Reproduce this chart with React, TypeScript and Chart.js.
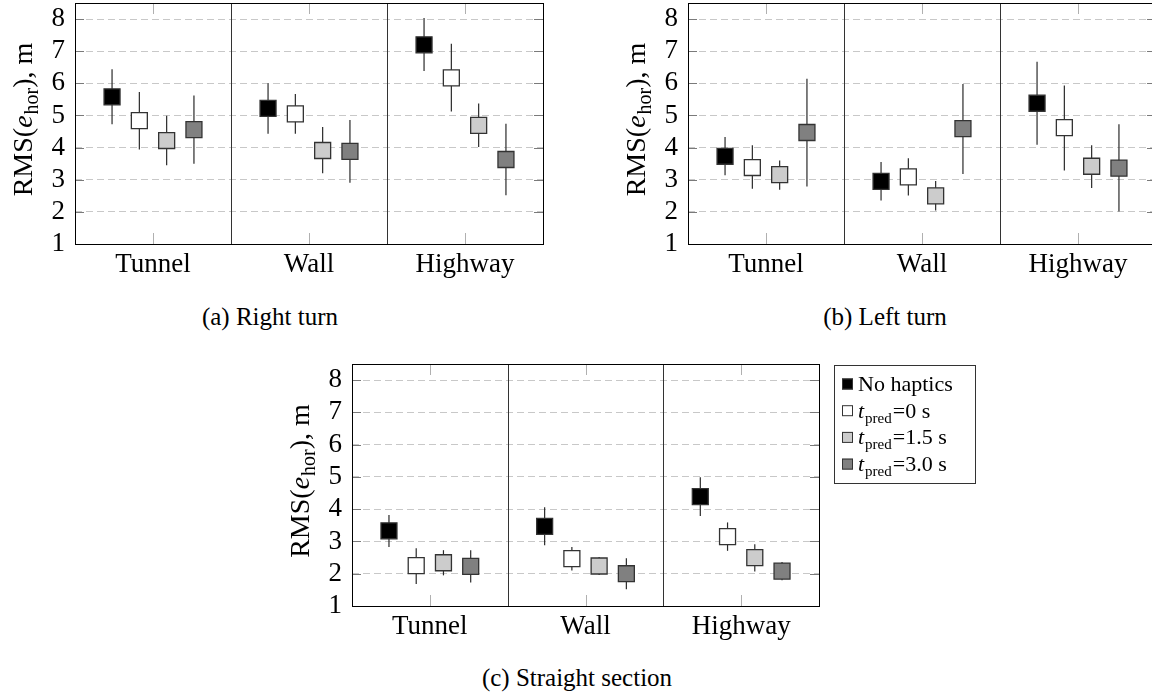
import React, { useEffect, useRef } from 'react';
import { Chart, registerables } from 'chart.js';

Chart.register(...registerables);

// ---------- data ----------
const categories = ['Tunnel', 'Wall', 'Highway'];
const seriesNames = ['No haptics', 't_pred=0 s', 't_pred=1.5 s', 't_pred=3.0 s'];
const legendSuffix = ['', '=0 s', '=1.5 s', '=3.0 s'];
const seriesFill = ['#000000', '#ffffff', '#cccccc', '#808080'];
const yTickValues = [1, 2, 3, 4, 5, 6, 7, 8];

// [series][category]
const rightMean = [[5.58, 5.22, 7.2], [4.84, 5.05, 6.17], [4.22, 3.91, 4.69], [4.56, 3.88, 3.63]];
const rightLow = [[4.73, 4.43, 6.38], [3.94, 4.43, 5.12], [3.45, 3.2, 4.02], [3.5, 2.91, 2.52]];
const rightHigh = [[6.44, 6.0, 8.03], [5.73, 5.67, 7.23], [4.99, 4.64, 5.37], [5.62, 4.86, 4.74]];

const leftMean = [[3.73, 2.95, 5.38], [3.38, 3.09, 4.62], [3.16, 2.5, 3.42], [4.47, 4.59, 3.36]];
const leftLow = [[3.14, 2.35, 4.09], [2.72, 2.51, 3.29], [2.69, 2.04, 2.74], [2.79, 3.18, 2.01]];
const leftHigh = [[4.33, 3.55, 6.67], [4.07, 3.67, 5.93], [3.6, 2.96, 4.07], [6.14, 5.98, 4.73]];

const straightMean = [[3.33, 3.47, 4.39], [2.25, 2.47, 3.15], [2.34, 2.24, 2.5], [2.23, 2.0, 2.08]];
const straightLow = [[2.83, 2.88, 3.79], [1.68, 2.1, 2.71], [1.95, 1.96, 2.07], [1.73, 1.52, 1.8]];
const straightHigh = [[3.82, 4.06, 4.99], [2.79, 2.83, 3.59], [2.73, 2.52, 2.91], [2.73, 2.48, 2.36]];

const seriesOffsets = [-0.2625, -0.0875, 0.0875, 0.2625];

const FONT = "'Liberation Serif', 'Times New Roman', serif";

type PanelProps = {
  mean: number[][];
  low: number[][];
  high: number[][];
  left: number;
  top: number;
  width: number;
  height: number;
  padTop: number;
  padRight: number;
  yAxisWidth: number;
  xAxisHeight: number;
  showLegend: boolean;
};

function Panel(p: PanelProps) {
  const ref = useRef<HTMLCanvasElement | null>(null);
  useEffect(() => {
    const canvas = ref.current;
    if (!canvas) return;

    const decor = {
      id: 'decor',
      beforeDatasetsDraw(chart: any) {
        const ctx = chart.ctx;
        const ca = chart.chartArea;
        const xs = chart.scales.x;
        const ys = chart.scales.y;
        ctx.save();
        // y tick marks (both sides, inside)
        ctx.strokeStyle = '#7a7a7a';
        ctx.lineWidth = 1;
        yTickValues.forEach((v) => {
          const y = Math.round(ys.getPixelForValue(v)) + 0.5;
          ctx.beginPath();
          ctx.moveTo(ca.left, y);
          ctx.lineTo(ca.left + 9, y);
          ctx.moveTo(ca.right - 9, y);
          ctx.lineTo(ca.right, y);
          ctx.stroke();
        });
        // x tick marks at category centres
        ctx.strokeStyle = '#b0b0b0';
        categories.forEach((_, i) => {
          const x = Math.round(xs.getPixelForValue(i + 0.5)) + 0.5;
          ctx.beginPath();
          ctx.moveTo(x, ca.top);
          ctx.lineTo(x, ca.top + 11);
          ctx.moveTo(x, ca.bottom);
          ctx.lineTo(x, ca.bottom - 11);
          ctx.stroke();
        });
        // dividers between groups
        ctx.strokeStyle = '#333333';
        for (let i = 1; i < categories.length; i++) {
          const x = Math.round(xs.getPixelForValue(i)) + 0.5;
          ctx.beginPath();
          ctx.moveTo(x, ca.top);
          ctx.lineTo(x, ca.bottom);
          ctx.stroke();
        }
        // frame
        ctx.strokeStyle = '#000000';
        ctx.strokeRect(Math.round(ca.left) + 0.5, Math.round(ca.top) + 0.5, Math.round(ca.right - ca.left), Math.round(ca.bottom - ca.top));
        // whiskers
        ctx.strokeStyle = '#2a2a2a';
        ctx.lineWidth = 1.2;
        p.mean.forEach((row, s) => {
          row.forEach((_, i) => {
            const x = xs.getPixelForValue(i + 0.5 + seriesOffsets[s]);
            ctx.beginPath();
            ctx.moveTo(x, ys.getPixelForValue(p.low[s][i]));
            ctx.lineTo(x, ys.getPixelForValue(p.high[s][i]));
            ctx.stroke();
          });
        });
        ctx.restore();
      },
      afterDraw(chart: any) {
        const ctx = chart.ctx;
        const ca = chart.chartArea;
        ctx.save();
        ctx.fillStyle = '#000';
        ctx.textBaseline = 'alphabetic';
        ctx.textAlign = 'left';
        // y-axis title: RMS(e_hor), m
        const big = `28px ${FONT}`;
        const ital = `italic 28px ${FONT}`;
        const small = `20px ${FONT}`;
        const parts: [string, string, number][] = [
          ['RMS(', big, 0],
          ['e', ital, 0],
          ['hor', small, 6],
          ['), m', big, 0],
        ];
        let total = 0;
        parts.forEach(([t, f]) => {
          ctx.font = f;
          total += ctx.measureText(t).width + (t === 'e' ? 1 : 0);
        });
        ctx.translate(ca.left - 43, (ca.top + ca.bottom) / 2 - 4);
        ctx.rotate(-Math.PI / 2);
        let cx = -total / 2;
        parts.forEach(([t, f, dy]) => {
          ctx.font = f;
          ctx.fillText(t, cx, dy);
          cx += ctx.measureText(t).width + (t === 'e' ? 1 : 0);
        });
        ctx.restore();

        if (p.showLegend) {
          ctx.save();
          const lx = Math.round(ca.right) + 15;
          const ly = Math.round(ca.top) + 1;
          ctx.strokeStyle = '#333';
          ctx.lineWidth = 1;
          ctx.strokeRect(lx + 0.5, ly + 0.5, 141, 118);
          seriesNames.forEach((name, s) => {
            const cy = ly + 19 + s * 26.7;
            ctx.fillStyle = seriesFill[s];
            ctx.fillRect(lx + 8, cy - 5.5, 11, 11);
            ctx.strokeStyle = '#333';
            ctx.strokeRect(lx + 8.5, cy - 5, 10, 10);
            ctx.fillStyle = '#000';
            let tx = lx + 24;
            const base = cy + 7;
            if (s === 0) {
              ctx.font = `22px ${FONT}`;
              ctx.fillText(name, tx, base);
            } else {
              ctx.font = `italic 22px ${FONT}`;
              ctx.fillText('t', tx, base);
              tx += ctx.measureText('t').width + 1;
              ctx.font = `15px ${FONT}`;
              ctx.fillText('pred', tx, base + 5);
              tx += ctx.measureText('pred').width + 1;
              ctx.font = `22px ${FONT}`;
              ctx.fillText(legendSuffix[s], tx, base);
            }
          });
          ctx.restore();
        }
      },
    };

    const datasets = p.mean.map((row, s) => ({
      label: seriesNames[s],
      data: row.map((v, i) => ({ x: i + 0.5 + seriesOffsets[s], y: v })),
      pointStyle: 'rect',
      pointRadius: 11.3,
      pointHoverRadius: 11.3,
      backgroundColor: seriesFill[s],
      borderColor: '#333333',
      borderWidth: 1.3,
      showLine: false,
    }));

    const chart = new Chart(canvas, {
      type: 'scatter',
      data: { datasets } as any,
      plugins: [decor as any],
      options: {
        animation: false,
        responsive: false,
        maintainAspectRatio: false,
        events: [],
        layout: { autoPadding: false, padding: { left: 0, top: p.padTop, right: p.padRight, bottom: 0 } },
        plugins: { legend: { display: false }, tooltip: { enabled: false } },
        scales: {
          x: {
            type: 'linear',
            min: 0,
            max: 3,
            grid: { display: false },
            border: { display: false },
            afterBuildTicks: (s: any) => {
              s.ticks = categories.map((_, i) => ({ value: i + 0.5 }));
            },
            afterFit: (s: any) => {
              s.height = p.xAxisHeight;
              s.paddingLeft = 0;
              s.paddingRight = 0;
            },
            ticks: {
              autoSkip: false,
              maxRotation: 0,
              padding: -3,
              color: '#000',
              font: { family: FONT, size: 27 },
              callback: (_v: any, i: number) => categories[i],
            },
          },
          y: {
            type: 'linear',
            min: 1,
            max: 8.5,
            afterBuildTicks: (s: any) => {
              s.ticks = yTickValues.map((v) => ({ value: v }));
            },
            afterFit: (s: any) => {
              s.width = p.yAxisWidth;
              s.paddingTop = 0;
              s.paddingBottom = 0;
            },
            grid: { color: '#c8c8c8', lineWidth: 1, drawTicks: false },
            border: { display: false, dash: [7, 4] },
            ticks: {
              autoSkip: false,
              padding: 10,
              color: '#000',
              font: { family: FONT, size: 27 },
            },
          },
        },
      } as any,
    });
    return () => chart.destroy();
  }, []);

  return (
    <canvas
      ref={ref}
      width={p.width}
      height={p.height}
      style={{ position: 'absolute', left: p.left, top: p.top, width: p.width, height: p.height }}
    />
  );
}

const captionStyle = (cx: number, top: number): React.CSSProperties => ({
  position: 'absolute',
  left: cx,
  top,
  transform: 'translateX(-50%)',
  fontFamily: FONT,
  fontSize: 25,
  lineHeight: '25px',
  whiteSpace: 'nowrap',
  color: '#000',
});

export default function App() {
  return (
    <div style={{ position: 'absolute', left: 0, top: 0, width: 1152, height: 692, overflow: 'hidden', background: '#fff' }}>
      <Panel mean={rightMean} low={rightLow} high={rightHigh}
        left={0} top={0} width={560} height={300} padTop={3} padRight={17}
        yAxisWidth={75} xAxisHeight={56} showLegend={false} />
      <Panel mean={leftMean} low={leftLow} high={leftHigh}
        left={600} top={0} width={560} height={300} padTop={3} padRight={4}
        yAxisWidth={88} xAxisHeight={56} showLegend={false} />
      <Panel mean={straightMean} low={straightLow} high={straightHigh}
        left={280} top={340} width={720} height={322} padTop={24} padRight={181}
        yAxisWidth={72} xAxisHeight={56} showLegend={true} />
      <div style={captionStyle(270, 304)}>(a) Right turn</div>
      <div style={captionStyle(885, 304)}>(b) Left turn</div>
      <div style={captionStyle(577, 665)}>(c) Straight section</div>
    </div>
  );
}
